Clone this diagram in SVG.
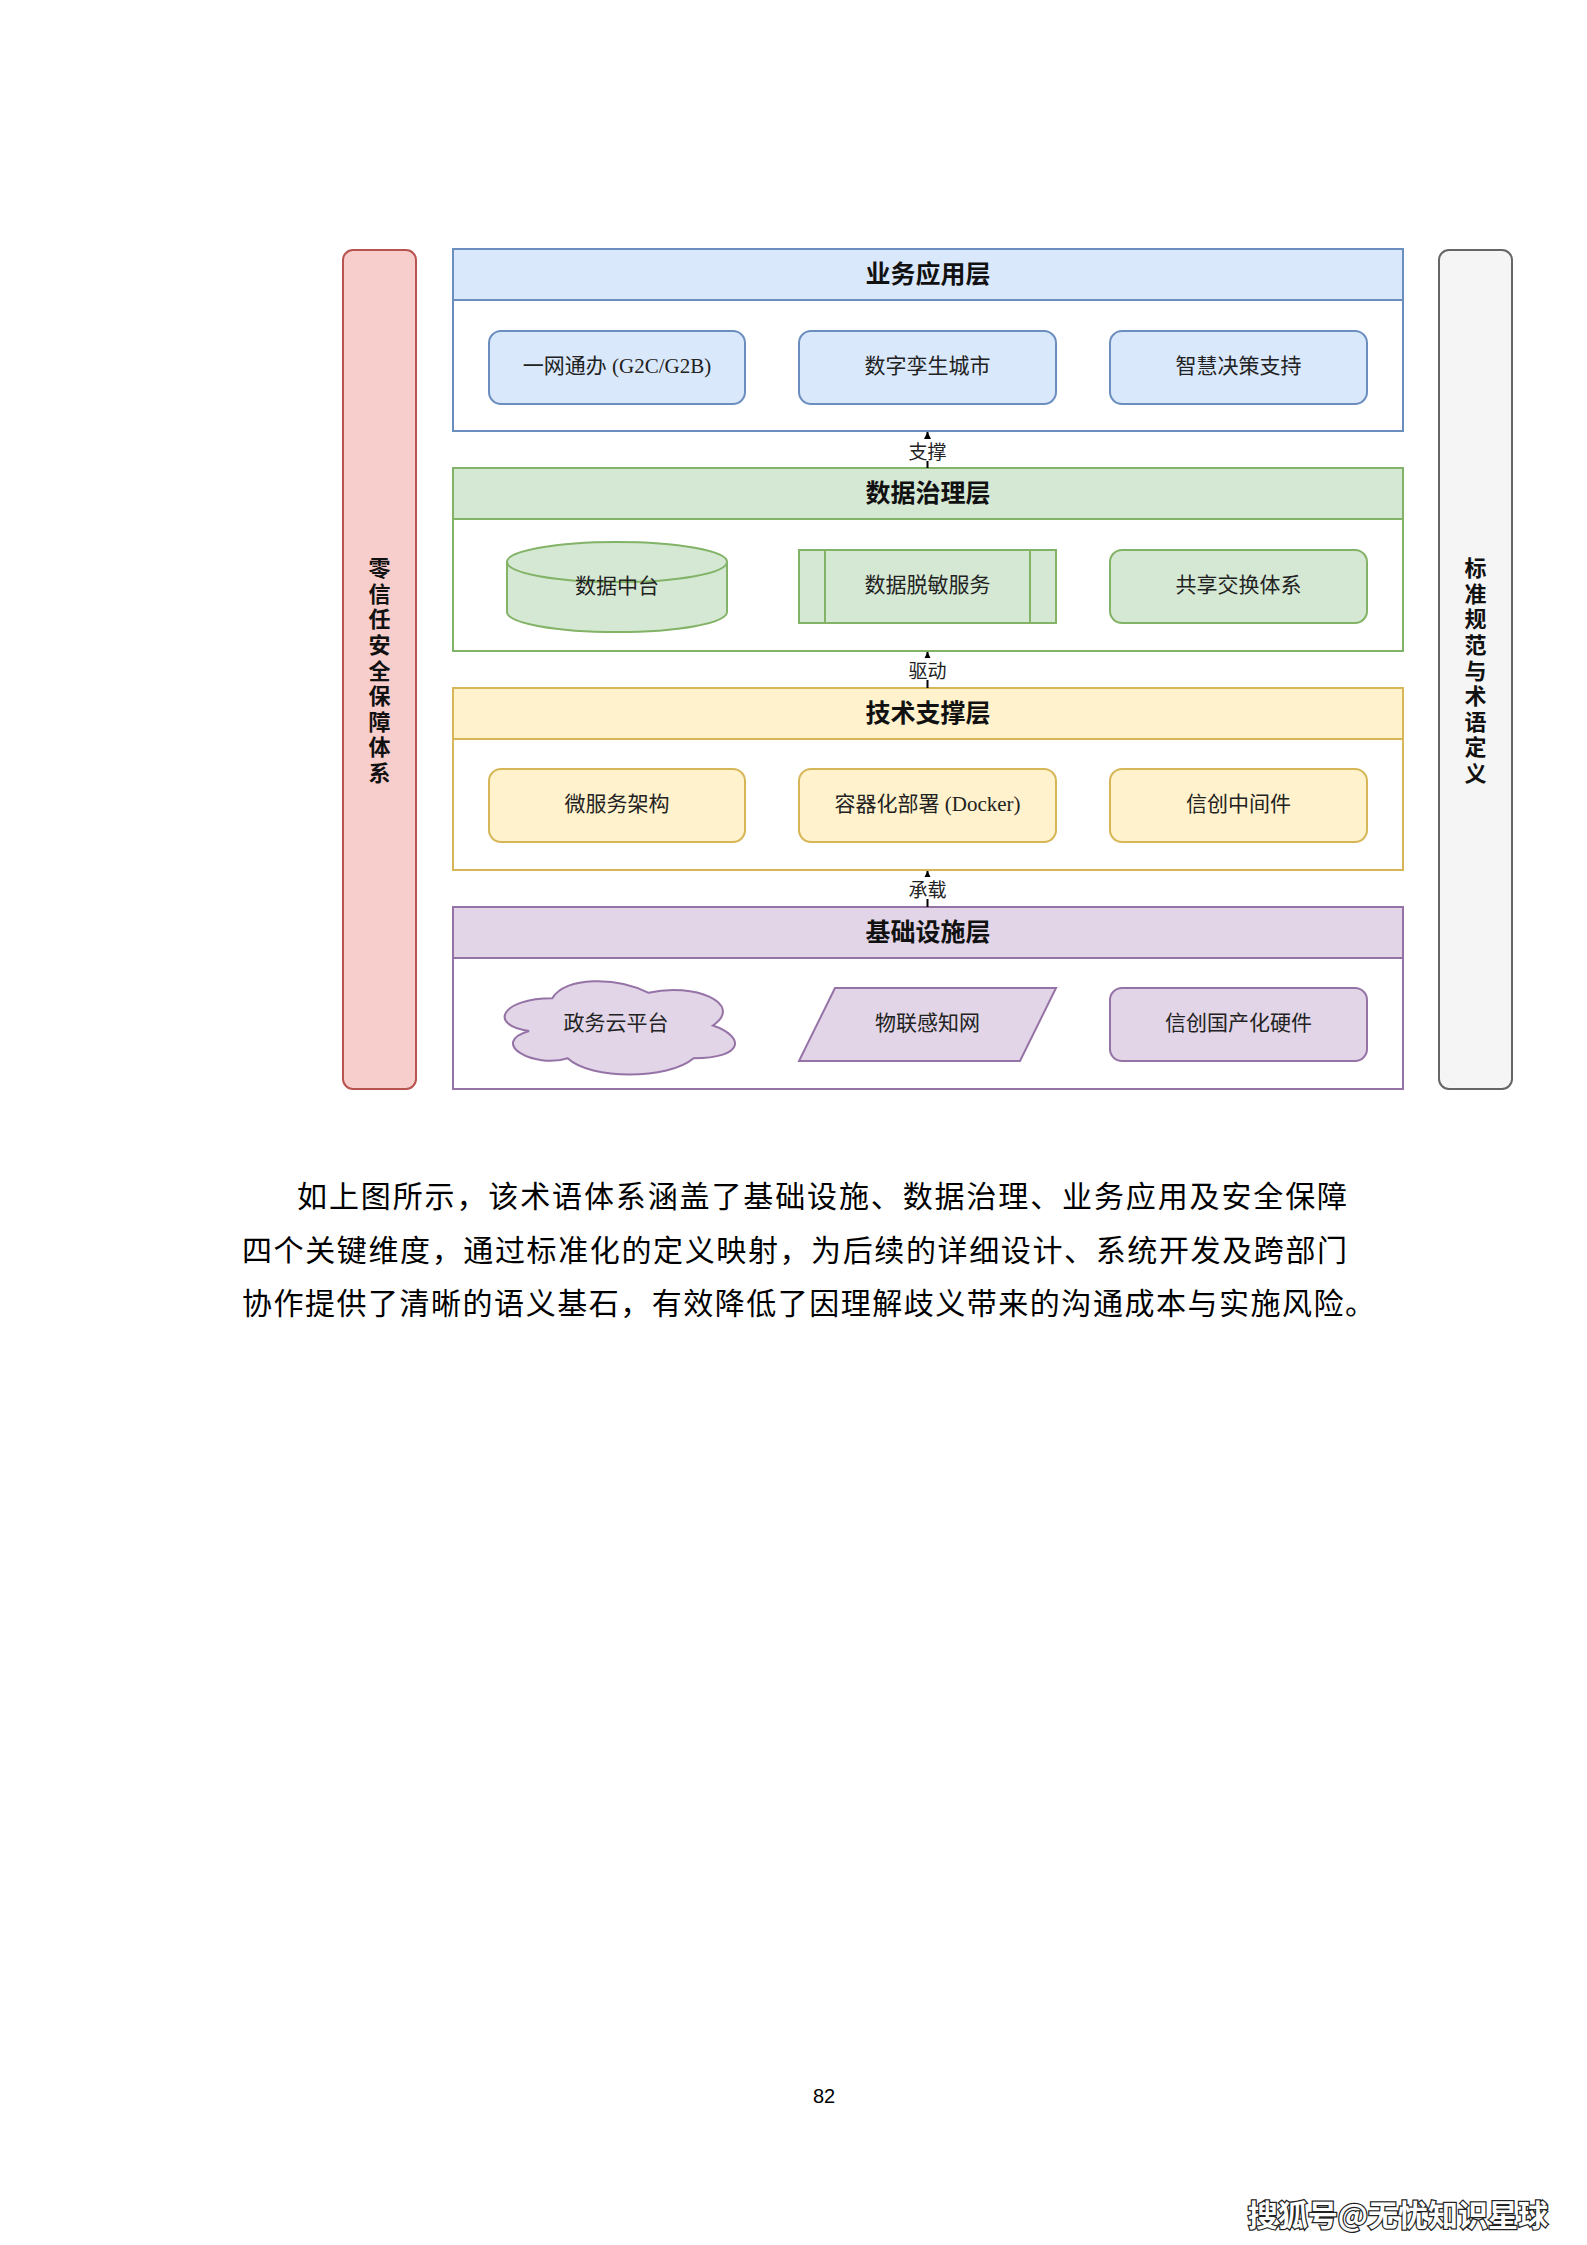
<svg xmlns="http://www.w3.org/2000/svg" width="1587" height="2245" viewBox="0 0 1587 2245">
<style>
.hdr{font-family:'Noto Sans CJK SC',sans-serif;font-size:25px;font-weight:bold;fill:#111;text-anchor:middle;dominant-baseline:central}
.nt{font-family:'Liberation Serif','Noto Sans CJK SC',sans-serif;font-size:21px;fill:#222;text-anchor:middle;dominant-baseline:central}
.vt{font-family:'Noto Sans CJK SC',sans-serif;font-size:22px;font-weight:bold;fill:#111;text-anchor:middle;writing-mode:vertical-rl;letter-spacing:3.6px}
.cl{font-family:'Noto Sans CJK SC',sans-serif;font-size:19px;fill:#222;text-anchor:middle;dominant-baseline:central}
.para{font-family:'Liberation Serif','Noto Sans CJK SC',serif;font-size:30px;fill:#000;dominant-baseline:central}
.conn{stroke:#000;stroke-width:2;fill:none}
.blue{fill:#dae8fc;stroke:#6c8ebf;stroke-width:2}
.green{fill:#d5e8d4;stroke:#82b366;stroke-width:2}
.yellow{fill:#fff2cc;stroke:#d6b656;stroke-width:2}
.purple{fill:#e1d5e7;stroke:#9673a6;stroke-width:2}
</style>
<defs>
<marker id="ah" viewBox="0 0 10 10" refX="10" refY="5" markerWidth="4" markerHeight="4" orient="auto" markerUnits="strokeWidth">
<path d="M0,0 L10,5 L0,10 Z" fill="#000"/>
</marker>
</defs>
<rect width="1587" height="2245" fill="#fff"/>

<g id="zero-trust">
<rect x="343" y="250" width="73" height="839" rx="10" fill="#f8cecc" stroke="#b85450" stroke-width="2"/>
<text class="vt" x="379.5" y="672">零信任安全保障体系</text>
</g>

<g id="standards">
<rect x="1439" y="250" width="73" height="839" rx="10" fill="#f5f5f5" stroke="#666" stroke-width="2"/>
<text class="vt" x="1475.5" y="672">标准规范与术语定义</text>
</g>

<g id="layer-business">
<rect x="453" y="249" width="950" height="182" fill="#fff" stroke="#6c8ebf" stroke-width="2"/>
<rect x="453" y="249" width="950" height="51" class="blue"/>
<text class="hdr" x="928" y="272">业务应用层</text>
</g>
<g id="node-ywtb"><rect x="489" y="331" width="256" height="73" rx="12" class="blue"/><text class="nt" x="617" y="366">一网通办 (G2C/G2B)</text></g>
<g id="node-szls"><rect x="799" y="331" width="257" height="73" rx="12" class="blue"/><text class="nt" x="927.5" y="366">数字孪生城市</text></g>
<g id="node-zhjc"><rect x="1110" y="331" width="257" height="73" rx="12" class="blue"/><text class="nt" x="1238.5" y="366">智慧决策支持</text></g>

<g id="layer-data">
<rect x="453" y="468" width="950" height="183" fill="#fff" stroke="#82b366" stroke-width="2"/>
<rect x="453" y="468" width="950" height="51" class="green"/>
<text class="hdr" x="928" y="491">数据治理层</text>
</g>
<g id="node-sjzt">
<path d="M507,562 A110,20 0 0 1 727,562 L727,612 A110,20 0 0 1 507,612 Z" class="green"/>
<path d="M507,562 A110,20 0 0 0 727,562" class="green" fill="none"/>
<text class="nt" x="617" y="586">数据中台</text>
</g>
<g id="node-sjtm">
<rect x="799" y="550" width="257" height="73" class="green"/>
<line x1="825" y1="550" x2="825" y2="623" stroke="#82b366" stroke-width="2"/>
<line x1="1030" y1="550" x2="1030" y2="623" stroke="#82b366" stroke-width="2"/>
<text class="nt" x="927.5" y="585">数据脱敏服务</text>
</g>
<g id="node-gxjh"><rect x="1110" y="550" width="257" height="73" rx="12" class="green"/><text class="nt" x="1238.5" y="585">共享交换体系</text></g>

<g id="layer-tech">
<rect x="453" y="688" width="950" height="182" fill="#fff" stroke="#d6b656" stroke-width="2"/>
<rect x="453" y="688" width="950" height="51" class="yellow"/>
<text class="hdr" x="928" y="711">技术支撑层</text>
</g>
<g id="node-wfw"><rect x="489" y="769" width="256" height="73" rx="12" class="yellow"/><text class="nt" x="617" y="804">微服务架构</text></g>
<g id="node-rqh"><rect x="799" y="769" width="257" height="73" rx="12" class="yellow"/><text class="nt" x="927.5" y="804">容器化部署 (Docker)</text></g>
<g id="node-xczjj"><rect x="1110" y="769" width="257" height="73" rx="12" class="yellow"/><text class="nt" x="1238.5" y="804">信创中间件</text></g>

<g id="layer-infra">
<rect x="453" y="907" width="950" height="182" fill="#fff" stroke="#9673a6" stroke-width="2"/>
<rect x="453" y="907" width="950" height="51" class="purple"/>
<text class="hdr" x="928" y="930">基础设施层</text>
</g>
<g id="node-zwy">
<path d="M552.25,998.25 C500.85,998.25 488,1025.5 529.12,1030.95 C488,1042.94 534.26,1069.1 567.67,1058.2 C590.8,1080 667.9,1080 693.6,1058.2 C745,1058.2 745,1036.4 712.88,1025.5 C745,1003.7 693.6,981.9 648.62,992.8 C616.5,976.45 565.1,976.45 552.25,998.25 Z" class="purple"/>
<text class="nt" x="616" y="1023">政务云平台</text>
</g>
<g id="node-wlgz">
<path d="M835,988 L1056,988 L1020,1061 L799,1061 Z" class="purple"/>
<text class="nt" x="927.5" y="1023">物联感知网</text>
</g>
<g id="node-xcgc"><rect x="1110" y="988" width="257" height="73" rx="12" class="purple"/><text class="nt" x="1238.5" y="1023">信创国产化硬件</text></g>

<g id="connectors">
<line x1="927.5" y1="468" x2="927.5" y2="432" class="conn" marker-end="url(#ah)"/>
<rect x="907" y="439" width="41" height="22" fill="#fff"/>
<text class="cl" x="927.5" y="450">支撑</text>
<line x1="927.5" y1="688" x2="927.5" y2="652" class="conn" marker-end="url(#ah)"/>
<rect x="907" y="658" width="41" height="22" fill="#fff"/>
<text class="cl" x="927.5" y="669">驱动</text>
<line x1="927.5" y1="907" x2="927.5" y2="871" class="conn" marker-end="url(#ah)"/>
<rect x="907" y="877" width="41" height="22" fill="#fff"/>
<text class="cl" x="927.5" y="888">承载</text>
</g>

<g id="paragraph">
<text class="para" x="297" y="1196" textLength="1050" lengthAdjust="spacing">如上图所示，该术语体系涵盖了基础设施、数据治理、业务应用及安全保障</text>
<text class="para" x="242" y="1250" textLength="1105" lengthAdjust="spacing">四个关键维度，通过标准化的定义映射，为后续的详细设计、系统开发及跨部门</text>
<text class="para" x="242" y="1303" textLength="1133" lengthAdjust="spacing">协作提供了清晰的语义基石，有效降低了因理解歧义带来的沟通成本与实施风险。</text>
</g>

<text x="824" y="2096" font-family="'Liberation Sans',sans-serif" font-size="20" fill="#000" text-anchor="middle" dominant-baseline="central">82</text>
<text x="1548" y="2213" font-family="'Noto Sans CJK SC',sans-serif" font-size="30" font-weight="bold" fill="#fff" stroke="#222" stroke-width="2.5" paint-order="stroke" text-anchor="end" dominant-baseline="central">搜狐号@无忧知识星球</text>
</svg>
